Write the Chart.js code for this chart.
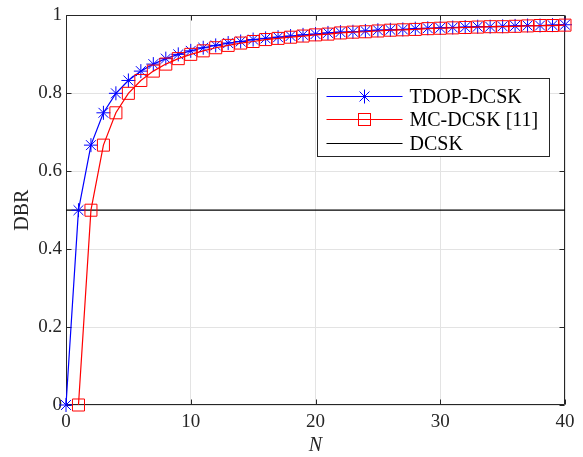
<!DOCTYPE html>
<html>
<head>
<meta charset="utf-8">
<script src="https://cdn.jsdelivr.net/npm/chart.js@4"></script>
<style>
html, body { margin: 0; padding: 0; background: #fff; }
#wrap { width: 583px; height: 457px; }
</style>
</head>
<body>
<div id="wrap"><canvas id="dbr-chart" width="583" height="457"></canvas></div>
<script>
// values
const tdopN = [0,1,2,3,4,5,6,7,8,9,10,11,12,13,14,15,16,17,18,19,20,21,22,23,24,25,26,27,28,29,30,31,32,33,34,35,36,37,38,39,40];
const tdopDBR = [0,0.5,0.667,0.75,0.8,0.833,0.857,0.875,0.889,0.9,0.909,0.917,0.923,0.929,0.933,0.938,0.941,0.944,0.947,0.95,
                 0.952,0.955,0.957,0.958,0.96,0.962,0.963,0.964,0.966,0.967,0.968,0.969,0.97,0.971,0.971,0.972,0.973,0.974,0.974,0.975,0.976];
const mcN = [1,2,3,4,5,6,7,8,9,10,11,12,13,14,15,16,17,18,19,20,21,22,23,24,25,26,27,28,29,30,31,32,33,34,35,36,37,38,39,40];
const mcDBR = [0,0.5,0.667,0.75,0.8,0.833,0.857,0.875,0.889,0.9,0.909,0.917,0.923,0.929,0.933,0.938,0.941,0.944,0.947,0.95,
               0.952,0.955,0.957,0.958,0.96,0.962,0.963,0.964,0.966,0.967,0.968,0.969,0.97,0.971,0.971,0.972,0.973,0.974,0.974,0.975];
const dcskN = [0, 40];
const dcskDBR = [0.5, 0.5];
const xTicks = [0, 10, 20, 30, 40];
const yTicks = [0, 0.2, 0.4, 0.6, 0.8, 1];
const seriesNames = ['TDOP-DCSK', 'MC-DCSK [11]', 'DCSK'];
const seriesColors = ['#0000ff', '#ff0000', '#000000'];

const SERIF = "'Liberation Serif', 'Times New Roman', serif";
const AXIS_DARK = '#262626';

Chart.defaults.font.family = SERIF;
Chart.defaults.color = AXIS_DARK;

function toPoints(xs, ys) {
    return xs.map((x, i) => ({ x: x, y: ys[i] }));
}

function drawStar(ctx, x, y, r) {
    ctx.beginPath();
    for (let k = 0; k < 4; k++) {
        const a = k * Math.PI / 4;
        ctx.moveTo(x - Math.cos(a) * r, y - Math.sin(a) * r);
        ctx.lineTo(x + Math.cos(a) * r, y + Math.sin(a) * r);
    }
    ctx.stroke();
}

// box, inner tick marks and the legend (MATLAB look)
const frameAndLegend = {
    id: 'frameAndLegend',
    beforeDatasetsDraw(chart) {
        const { ctx, chartArea: a, scales: { x, y } } = chart;
        const L = Math.round(a.left) + 0.5, R = Math.round(a.right) - 0.5;
        const T = Math.round(a.top) + 0.5, B = Math.round(a.bottom) - 0.5;
        ctx.save();
        ctx.strokeStyle = AXIS_DARK;
        ctx.lineWidth = 1;
        ctx.beginPath();
        ctx.rect(L, T, R - L, B - T);
        xTicks.forEach(v => {
            const px = Math.round(x.getPixelForValue(v)) + 0.5;
            ctx.moveTo(px, B); ctx.lineTo(px, B - 5);
            ctx.moveTo(px, T); ctx.lineTo(px, T + 5);
        });
        yTicks.forEach(v => {
            const py = Math.round(y.getPixelForValue(v)) + 0.5;
            ctx.moveTo(L, py); ctx.lineTo(L + 5, py);
            ctx.moveTo(R, py); ctx.lineTo(R - 5, py);
        });
        ctx.stroke();
        ctx.restore();
    },
    afterDraw(chart) {
        const { ctx, chartArea: a } = chart;
        const x1 = Math.round(a.right) - 248 + 0.5;
        const y1 = Math.round(a.top) + 63 + 0.5;
        const w = 232, h = 78;
        ctx.save();
        ctx.fillStyle = '#fff';
        ctx.fillRect(x1, y1, w, h);
        ctx.strokeStyle = AXIS_DARK;
        ctx.lineWidth = 1;
        ctx.strokeRect(x1, y1, w, h);

        const rows = [17, 40, 64];
        ctx.font = '20px ' + SERIF;
        ctx.textBaseline = 'middle';
        seriesNames.forEach((name, i) => {
            const cy = Math.round(y1 + rows[i]) + 0.5;
            ctx.strokeStyle = seriesColors[i];
            ctx.lineWidth = 1.2;
            ctx.beginPath();
            ctx.moveTo(x1 + 9, cy);
            ctx.lineTo(x1 + 85, cy);
            ctx.stroke();
            ctx.lineWidth = 1;
            if (i === 0) drawStar(ctx, x1 + 47, cy, 7);
            if (i === 1) ctx.strokeRect(x1 + 41, cy - 6, 12, 12);
            ctx.fillStyle = '#000';
            ctx.fillText(name, x1 + 92, cy + 1);
        });
        ctx.restore();
    }
};

new Chart(document.getElementById('dbr-chart'), {
    type: 'scatter',
    data: {
        datasets: [
            {
                label: seriesNames[2],
                data: toPoints(dcskN, dcskDBR),
                showLine: true,
                borderColor: seriesColors[2],
                borderWidth: 1.2,
                pointRadius: 0,
                order: 3
            },
            {
                label: seriesNames[0],
                data: toPoints(tdopN, tdopDBR),
                showLine: true,
                borderColor: seriesColors[0],
                backgroundColor: 'rgba(0,0,0,0)',
                borderWidth: 1.2,
                pointStyle: 'star',
                pointRadius: 7,
                pointBorderWidth: 1,
                pointBorderColor: seriesColors[0],
                clip: false,
                order: 2
            },
            {
                label: seriesNames[1],
                data: toPoints(mcN, mcDBR),
                showLine: true,
                borderColor: seriesColors[1],
                backgroundColor: 'rgba(0,0,0,0)',
                borderWidth: 1.2,
                pointStyle: 'rect',
                pointRadius: 8.5,
                pointBorderWidth: 1,
                pointBorderColor: seriesColors[1],
                pointBackgroundColor: 'rgba(0,0,0,0)',
                clip: false,
                order: 1
            }
        ]
    },
    options: {
        responsive: false,
        animation: false,
        devicePixelRatio: 1,
        layout: { padding: { left: 0, top: 12, right: 18, bottom: 0 } },
        plugins: {
            legend: { display: false },
            tooltip: { enabled: false }
        },
        scales: {
            x: {
                type: 'linear',
                min: 0,
                max: 40,
                afterBuildTicks: s => { s.ticks = xTicks.map(v => ({ value: v })); },
                afterFit: s => { s.height = 52; },
                grid: { color: '#e3e3e3', drawTicks: false },
                border: { display: false },
                ticks: {
                    color: AXIS_DARK,
                    padding: 6,
                    font: { family: SERIF, size: 19 },
                    callback: v => String(v)
                },
                title: {
                    display: true,
                    text: 'N',
                    color: AXIS_DARK,
                    padding: { top: 0, bottom: 1 },
                    font: { family: SERIF, size: 20, style: 'italic', lineHeight: 1 }
                }
            },
            y: {
                type: 'linear',
                min: 0,
                max: 1,
                afterBuildTicks: s => { s.ticks = yTicks.map(v => ({ value: v })); },
                afterFit: s => { s.width = 66; },
                grid: { color: '#e3e3e3', drawTicks: false },
                border: { display: false },
                ticks: {
                    color: AXIS_DARK,
                    padding: 4,
                    font: { family: SERIF, size: 19 },
                    callback: v => String(v)
                },
                title: {
                    display: true,
                    text: 'DBR',
                    color: AXIS_DARK,
                    padding: { top: 13, bottom: 0 },
                    font: { family: SERIF, size: 20, lineHeight: 1 }
                }
            }
        }
    },
    plugins: [frameAndLegend]
});
</script>
</body>
</html>
